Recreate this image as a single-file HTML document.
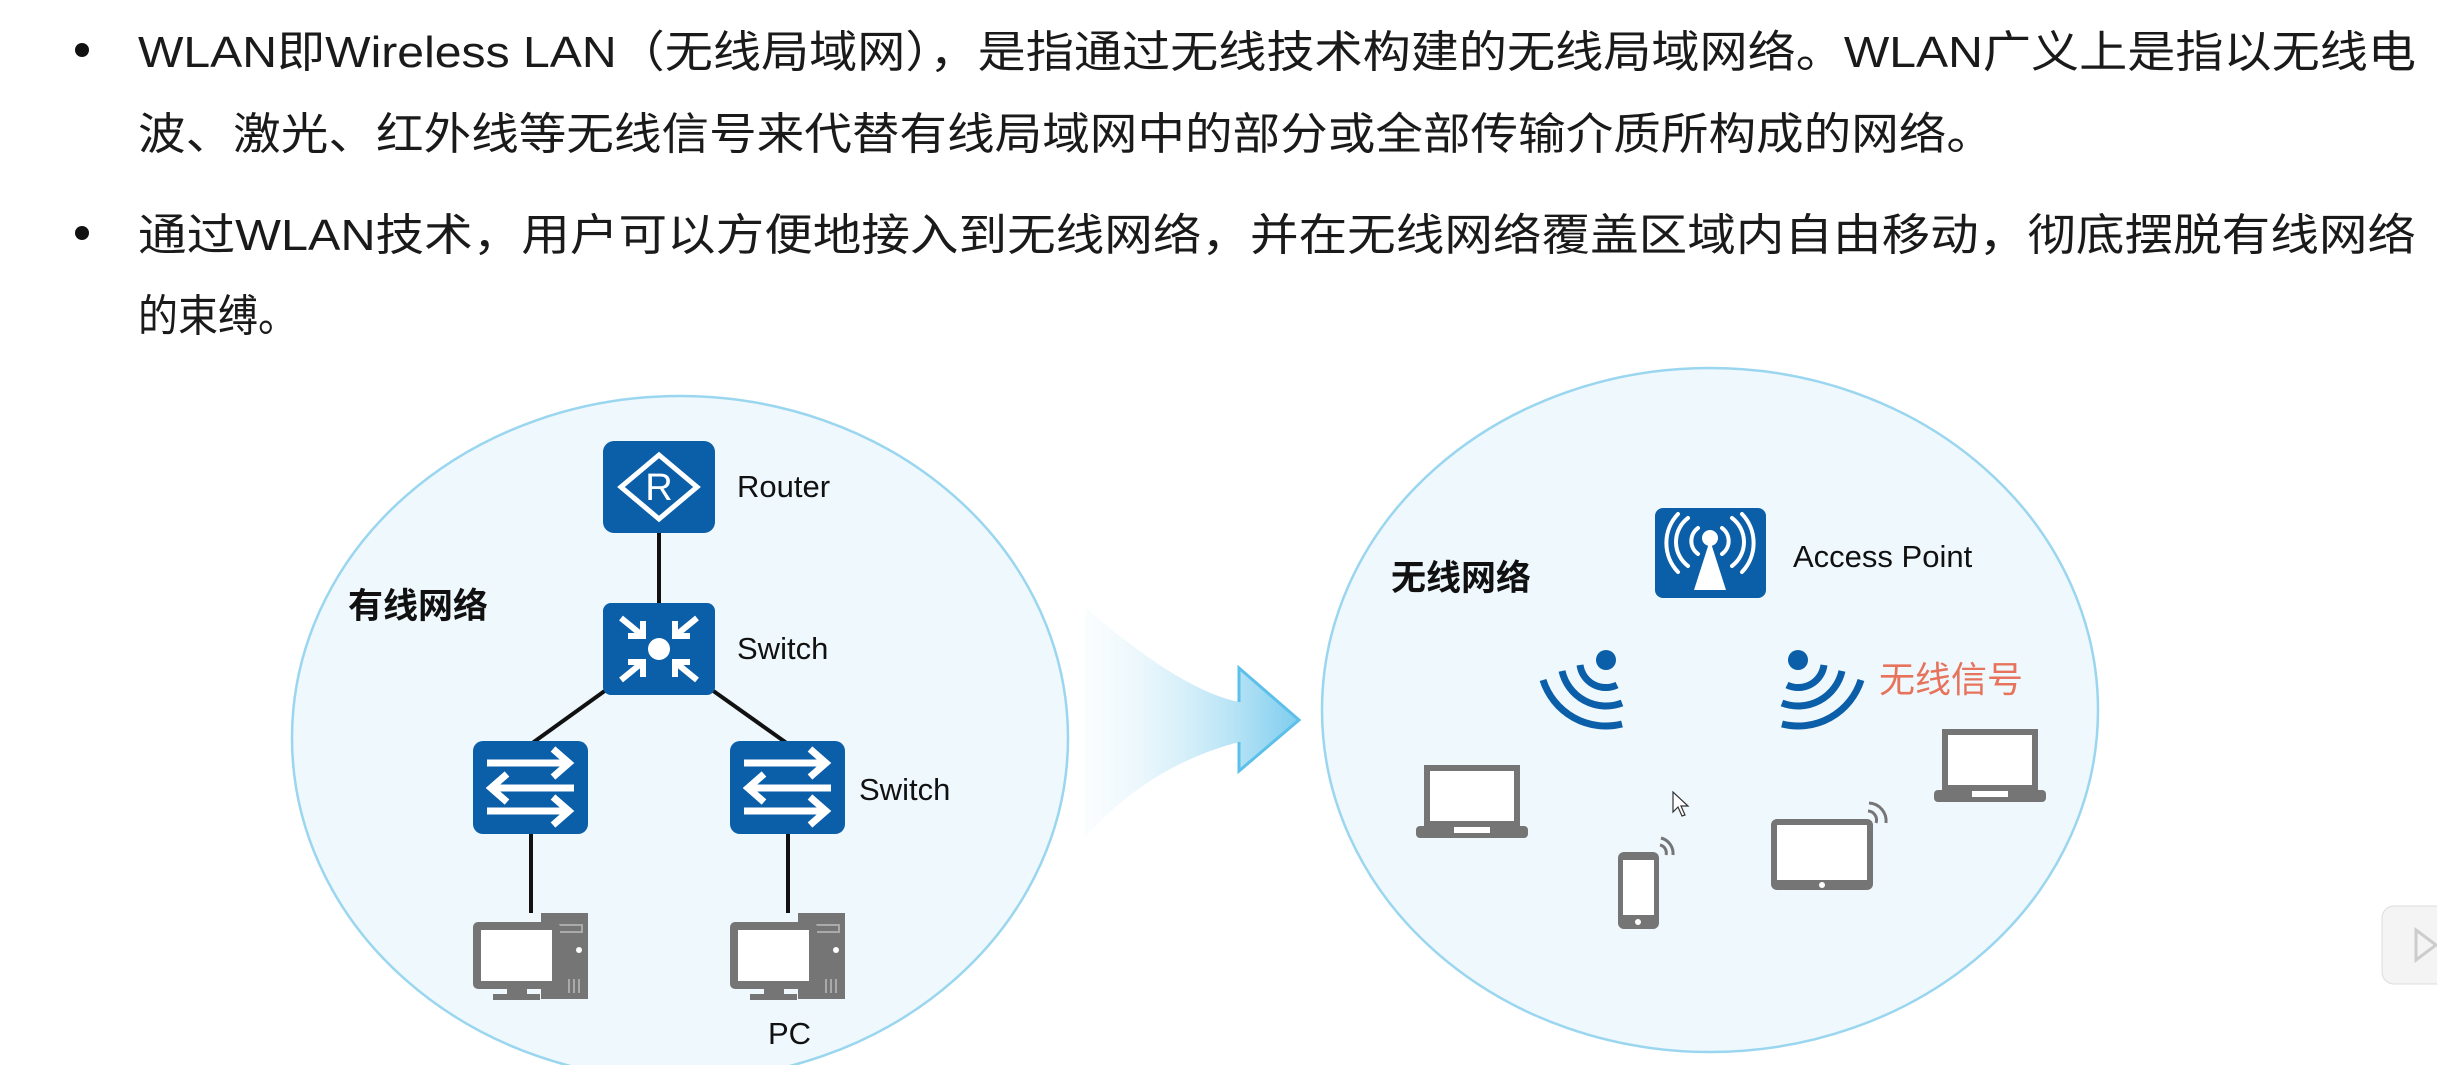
<!DOCTYPE html>
<html><head><meta charset="utf-8"><style>
html,body{margin:0;padding:0;background:#fff;}
svg{display:block}
text{font-family:"Liberation Sans","Noto Sans CJK SC",sans-serif;}
</style></head><body>
<svg width="2437" height="1065" viewBox="0 0 2437 1065" xmlns="http://www.w3.org/2000/svg">
<defs>
<linearGradient id="ag" x1="0" y1="0" x2="1" y2="0">
<stop offset="0" stop-color="#e8f6fc" stop-opacity="0.2"/>
<stop offset="0.7" stop-color="#b6e3f5"/>
<stop offset="1" stop-color="#7fcdef"/>
</linearGradient>
<g id="sw2">
<rect x="0" y="0" width="115" height="93" rx="10" fill="#0b5ea8"/>
<g stroke="#fff" stroke-width="7" fill="none" stroke-linecap="butt">
<line x1="14" y1="22" x2="96" y2="22"/><polyline points="80,8 96,22 80,36"/>
<line x1="18" y1="47" x2="101" y2="47"/><polyline points="34,33 18,47 34,61"/>
<line x1="14" y1="70" x2="96" y2="70"/><polyline points="80,56 96,70 80,84"/>
</g></g>
<g id="pc">
<rect x="68" y="0" width="47" height="86" fill="#757575"/>
<rect x="74" y="12" width="35" height="7" fill="none" stroke="#aaa" stroke-width="2"/>
<circle cx="106" cy="37" r="3" fill="#fff"/>
<g stroke="#aaa" stroke-width="2"><line x1="96" y1="66" x2="96" y2="80"/><line x1="101" y1="66" x2="101" y2="80"/><line x1="106" y1="66" x2="106" y2="80"/></g>
<rect x="0" y="9" width="87" height="67" rx="5" fill="#757575"/>
<rect x="8" y="17" width="71" height="51" fill="#fff"/>
<rect x="34" y="76" width="20" height="6" fill="#757575"/>
<rect x="20" y="81" width="47" height="6" fill="#757575"/>
</g>
<g id="laptop">
<rect x="8" y="0" width="96" height="61" fill="#757575"/>
<rect x="14" y="6" width="84" height="50" fill="#fff"/>
<rect x="0" y="61" width="112" height="12" rx="4" fill="#757575"/>
<rect x="38" y="62" width="36" height="6" fill="#fff"/>
</g>
</defs>

<!-- bullets text -->
<circle cx="82" cy="50" r="7" fill="#111"/>
<circle cx="82" cy="233" r="7" fill="#111"/>
<g font-size="44" fill="#1a1a1a">
<text x="138" y="67" textLength="2278" lengthAdjust="spacingAndGlyphs">WLAN即Wireless LAN（无线局域网），是指通过无线技术构建的无线局域网络。WLAN广义上是指以无线电</text>
<text x="138" y="149" textLength="1856" lengthAdjust="spacingAndGlyphs">波、激光、红外线等无线信号来代替有线局域网中的部分或全部传输介质所构成的网络。</text>
<text x="138" y="250" textLength="2278" lengthAdjust="spacingAndGlyphs">通过WLAN技术，用户可以方便地接入到无线网络，并在无线网络覆盖区域内自由移动，彻底摆脱有线网络</text>
<text x="138" y="331" textLength="160" lengthAdjust="spacingAndGlyphs">的束缚。</text>
</g>

<!-- ellipses -->
<ellipse cx="680" cy="738" rx="388" ry="342" fill="#eef8fd" stroke="#9ad6ef" stroke-width="2.5"/>
<ellipse cx="1710" cy="710" rx="388" ry="342" fill="#eef8fd" stroke="#9ad6ef" stroke-width="2.5"/>

<!-- arrow -->
<path d="M1085,607 Q1180,690 1239,702 L1239,668 L1299,720 L1239,771 L1239,742 Q1150,765 1085,837 Z" fill="url(#ag)"/>
<path d="M1239,702 L1239,668 L1299,720 L1239,771 L1239,742" fill="none" stroke="#5cc0ea" stroke-width="3"/>

<!-- left wired -->
<g stroke="#111" stroke-width="4">
<line x1="659" y1="532" x2="659" y2="603"/>
<line x1="606" y1="690" x2="531" y2="744"/>
<line x1="712" y1="690" x2="788" y2="744"/>
<line x1="531" y1="834" x2="531" y2="913"/>
<line x1="788" y1="834" x2="788" y2="913"/>
</g>
<rect x="603" y="441" width="112" height="92" rx="11" fill="#0b5ea8"/>
<polygon points="659,455 697,487 659,519 621,487" fill="none" stroke="#fff" stroke-width="5"/>
<text x="659" y="500" font-size="38" fill="#fff" text-anchor="middle">R</text>
<rect x="603" y="603" width="112" height="92" rx="8" fill="#0b5ea8"/>
<circle cx="659" cy="649" r="11" fill="#fff"/>
<g stroke="#fff" stroke-width="6" fill="none">
<line x1="621" y1="618" x2="643" y2="636"/><polyline points="628,636 643,636 643,621"/>
<line x1="697" y1="618" x2="675" y2="636"/><polyline points="690,636 675,636 675,621"/>
<line x1="621" y1="680" x2="643" y2="662"/><polyline points="628,662 643,662 643,677"/>
<line x1="697" y1="680" x2="675" y2="662"/><polyline points="690,662 675,662 675,677"/>
</g>
<use href="#sw2" x="473" y="741"/>
<use href="#sw2" x="730" y="741"/>
<use href="#pc" x="473" y="913"/>
<use href="#pc" x="730" y="913"/>
<g font-size="31" fill="#111">
<text x="737" y="497">Router</text>
<text x="737" y="659">Switch</text>
<text x="859" y="800">Switch</text>
<text x="768" y="1044">PC</text>
</g>
<text x="348" y="618" font-size="35" font-weight="bold" fill="#111">有线网络</text>

<!-- right wireless -->
<text x="1391" y="590" font-size="35" font-weight="bold" fill="#111">无线网络</text>
<rect x="1655" y="508" width="111" height="90" rx="8" fill="#0b5ea8"/>
<circle cx="1710" cy="538" r="8" fill="#fff"/>
<polygon points="1710,540 1694,590 1726,590" fill="#fff"/>
<g stroke="#fff" stroke-width="4" fill="none" stroke-linecap="round">
<path d="M1698,528 A16,16 0 0 0 1698,554"/><path d="M1722,528 A16,16 0 0 1 1722,554"/>
<path d="M1688,518 A30,30 0 0 0 1688,566"/><path d="M1732,518 A30,30 0 0 1 1732,566"/>
<path d="M1678,514 A42,42 0 0 0 1678,572"/><path d="M1742,514 A42,42 0 0 1 1742,572"/>
</g>
<text x="1793" y="567" font-size="31" fill="#111">Access Point</text>
<!-- signals -->
<circle cx="1606" cy="660" r="10" fill="#0b5ea8"/>
<g stroke="#0b5ea8" stroke-width="7" fill="none">
<path d="M1580,665 A26,26 0 0 0 1617,685"/>
<path d="M1562,671 A45,45 0 0 0 1622,703"/>
<path d="M1543,680 A66,66 0 0 0 1622,724"/>
</g>
<circle cx="1798" cy="660" r="10" fill="#0b5ea8"/>
<g stroke="#0b5ea8" stroke-width="7" fill="none">
<path d="M1824,665 A26,26 0 0 1 1787,685"/>
<path d="M1842,671 A45,45 0 0 1 1782,703"/>
<path d="M1861,680 A66,66 0 0 1 1782,724"/>
</g>
<text x="1879" y="692" font-size="36" fill="#e8735c">无线信号</text>
<use href="#laptop" x="1416" y="765"/>
<use href="#laptop" x="1934" y="729"/>
<!-- phone -->
<rect x="1618" y="852" width="41" height="77" rx="6" fill="#757575"/>
<rect x="1623" y="860" width="31" height="55" fill="#fff"/>
<circle cx="1638" cy="922" r="3" fill="#fff"/>
<g stroke="#757575" stroke-width="3" fill="none"><path d="M1660,845 A8,8 0 0 1 1666,855"/><path d="M1661,838 A16,16 0 0 1 1673,855"/></g>
<!-- tablet -->
<rect x="1771" y="819" width="102" height="71" rx="6" fill="#757575"/>
<rect x="1777" y="825" width="90" height="55" fill="#fff"/>
<circle cx="1822" cy="885" r="3" fill="#fff"/>
<g stroke="#757575" stroke-width="3" fill="none"><path d="M1868,811 A9,9 0 0 1 1876,823"/><path d="M1869,803 A18,18 0 0 1 1886,823"/></g>
<!-- cursor -->
<path d="M1673,792 L1673,812 L1678,807 L1682,816 L1685,815 L1681,806 L1688,806 Z" fill="#fff" stroke="#333" stroke-width="1.2"/>
<!-- side icon -->
<rect x="2382" y="906" width="70" height="78" rx="12" fill="#f4f4f4" stroke="#ddd"/>
<polygon points="2416,930 2416,960 2436,945" fill="none" stroke="#ccc" stroke-width="3"/>
</svg>
</body></html>
